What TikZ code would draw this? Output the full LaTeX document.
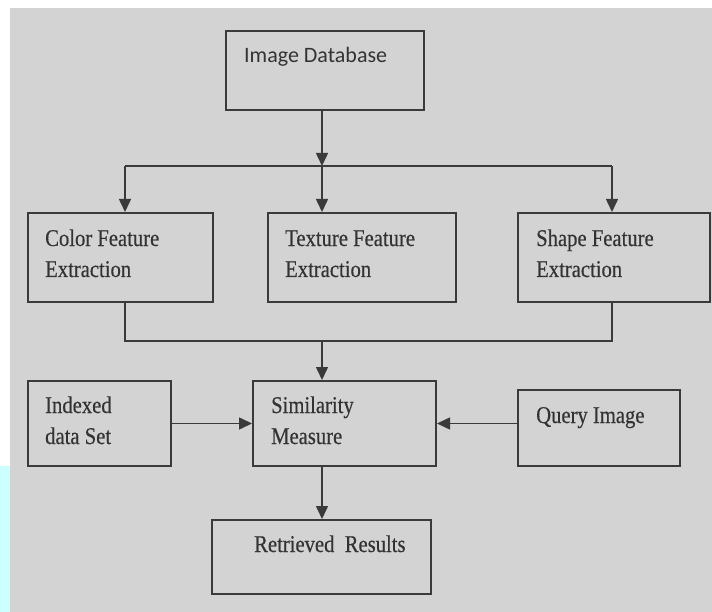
\documentclass[tikz,border=0pt]{standalone}
\usepackage{fontspec}
\setmainfont{Liberation Serif}
\newfontfamily\serifc[FakeStretch=0.86,FakeBold=0.4]{Liberation Serif}
\newfontfamily\sansc{Carlito}
\usetikzlibrary{arrows.meta}
\definecolor{bggrey}{HTML}{D3D3D3}
\definecolor{linegrey}{HTML}{3A3A3A}
\definecolor{txtgrey}{HTML}{333333}
\definecolor{lcyan}{HTML}{CCFFFF}
\begin{document}
\begin{tikzpicture}[x=1pt,y=-1pt,
  box/.style={draw=linegrey,line width=2pt,inner sep=0pt,minimum width=#1},
  lbl/.style={anchor=base west,inner sep=0pt,align=left,text=txtgrey,font=\serifc\fontsize{24}{31}\selectfont},
  conn/.style={draw=linegrey,line width=1.5pt},
  arr/.style={conn,-{Triangle[length=13pt,width=12pt]}}]
\useasboundingbox (0,0) rectangle (712,612);
\fill[white] (0,0) rectangle (712,612);
\fill[bggrey] (10,8) rectangle (712,612);
\fill[lcyan] (0,466) rectangle (10,612);
% boxes
\node[box=198pt,minimum height=79pt] (db) at (325,70.5) {};
\node[box=185pt,minimum height=89pt] (color) at (120.5,257.5) {};
\node[box=188pt,minimum height=89pt] (texture) at (362,257.5) {};
\node[box=192pt,minimum height=89pt] (shape) at (614,257.5) {};
\node[box=143pt,minimum height=85pt] (indexed) at (99.5,423.5) {};
\node[box=183pt,minimum height=85pt] (sim) at (344.5,423.5) {};
\node[box=162pt,minimum height=76pt] (query) at (599,428) {};
\node[box=219pt,minimum height=74pt] (retr) at (321.5,557) {};
% labels (base anchor = baseline of the last line)
\node[lbl,font=\sansc\fontsize{22}{26}\selectfont] (tdb) at (244,63) {Image Database};
\node[lbl] (tcolor) at (45,277) {Color Feature\\Extraction};
\node[lbl] (ttexture) at (285,277) {Texture Feature\\Extraction};
\node[lbl] (tshape) at (536,277) {Shape Feature\\Extraction};
\node[lbl] (tindexed) at (45,444) {Indexed\\data Set};
\node[lbl] (tsim) at (271,444) {Similarity\\Measure};
\node[lbl] (tquery) at (536,423) {Query Image};
\node[lbl] (tretr) at (254,552) {Retrieved\ \ Results};
% junction coordinates
\coordinate (j1) at (322,166);
\coordinate (cL) at (125,166);
\coordinate (cR) at (612,166);
\coordinate (j2) at (322,341);
\coordinate (dL) at (125,341);
\coordinate (dR) at (612,341);
% connectors
\draw[arr] (j1 |- db.south) -- (j1);
\draw[conn] (cL) -- (cR);
\draw[arr] (cL) -- (cL |- color.north);
\draw[arr] (j1) -- (j1 |- texture.north);
\draw[arr] (cR) -- (cR |- shape.north);
\draw[conn] (cL |- color.south) -- (dL) -- (dR) -- (cR |- shape.south);
\draw[arr] (j2) -- (j2 |- sim.north);
\draw[arr] (indexed.east) -- (sim.west |- indexed.east);
\draw[arr] (query.west |- sim.east) -- (sim.east);
\draw[arr] (j2 |- sim.south) -- (j2 |- retr.north);
\end{tikzpicture}
\end{document}
